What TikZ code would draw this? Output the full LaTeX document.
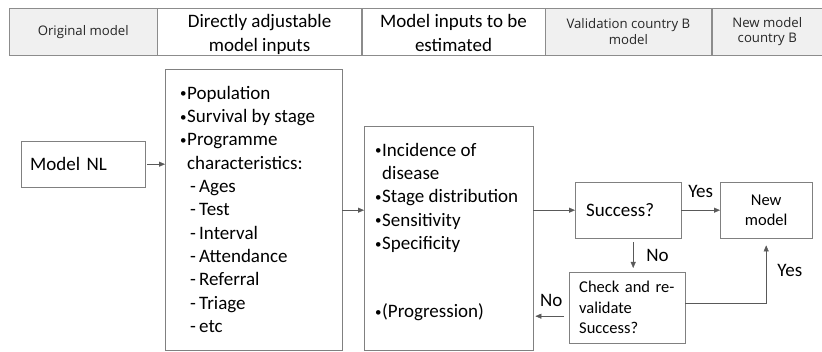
\documentclass[tikz,border=0pt]{standalone}
\usepackage{fontspec}
\setmainfont{Carlito}
\newfontfamily\headfont{Open Sans}
\usetikzlibrary{arrows.meta,shadows}
\tikzset{
    plain-box/.style = {draw=black!50, fill=white, thin, rectangle, inner sep=0pt, drop shadow={shadow xshift=1.2pt, shadow yshift=-1.2pt, fill=black!25, opacity=1}},
    big-text/.style = {font=\fontsize{19}{23.3}\selectfont},
    small-text/.style = {font=\fontsize{16.5}{20.5}\selectfont},
    head-cell/.style = {draw=black!45, fill=white, rectangle, minimum height=47pt, inner sep=0pt, align=center},
    head-cell-grey/.style = {head-cell, fill=black!6, text=black!85, font=\headfont\fontsize{13.2}{15.5}\selectfont},
    head-title/.style = {align=center, inner sep=0pt, font=\fontsize{19}{24}\selectfont},
    flow-arrow/.style = {draw=black!65, thin, -{Triangle[length=6pt,width=5pt]}},
    answer/.style = {big-text, inner sep=1pt},
}
\newcommand{\blt}{\makebox[7pt][l]{\raisebox{1.5pt}{\fontsize{13}{13}\selectfont\textbullet}}}
\newcommand{\dsh}{\hspace*{10pt}\makebox[9pt][l]{-}}

\begin{document}
\begin{tikzpicture}[x=1pt,y=-1pt]
\useasboundingbox (0,0) rectangle (822,352);

\node[head-cell-grey, minimum width=148pt, anchor=north west] (h-orig) at (9,8) {Original model};
\node[head-cell, minimum width=204pt, anchor=north west] (h-adj) at (h-orig.north east) {};
\node[head-cell, minimum width=183pt, anchor=north west] (h-est) at (h-adj.north east) {};
\node[head-cell-grey, minimum width=166pt, anchor=north west] (h-val) at (h-est.north east) {Validation country B\\model};
\node[head-cell-grey, minimum width=111pt, anchor=north west] (h-new) at (h-val.north east) {New model\\country B};
\node[head-title] (t-adj) at ([yshift=-3pt]h-adj.center) {Directly adjustable\\model inputs};
\node[head-title] (t-est) at ([yshift=-3pt]h-est.center) {Model inputs to be\\estimated\vphantom{p}};

\node[plain-box, big-text, anchor=north west, minimum width=124pt, minimum height=46pt, text width=106pt, inner xsep=9pt, align=left] (nl) at (21,141) {Model NL};

\node[plain-box, big-text, anchor=north west, inner xsep=15pt, inner ysep=17pt] (adj) at (165,69) {\begin{minipage}[t][247pt][t]{147pt}
    \blt Population\\
    \blt Survival by stage\\
    \blt Programme\\
    \hspace*{7pt}characteristics:\\
    \dsh Ages\\
    \dsh Test\\
    \dsh Interval\\
    \dsh Attendance\\
    \dsh Referral\\
    \dsh Triage\\
    \dsh etc
\end{minipage}};

\node[plain-box, big-text, anchor=north west, inner xsep=11pt, inner ysep=17pt] (est) at (364,126) {\begin{minipage}[t][190pt][t]{147pt}
    \blt Incidence of\\
    \hspace*{7pt}disease\\
    \blt Stage distribution\\
    \blt Sensitivity\\
    \blt Specificity\\[44.7pt]
    \blt (Progression)
\end{minipage}};

\node[plain-box, big-text, anchor=north west, minimum width=106pt, minimum height=56pt, text width=84pt, inner xsep=11pt, align=left] (succ) at (575,182) {Success?};
\node[plain-box, small-text, anchor=north west, minimum width=92pt, minimum height=56pt, align=center] (new) at (720,182) {New\\model};
\node[plain-box, small-text, anchor=north west, minimum width=116pt, minimum height=71pt, text width=96pt, inner xsep=10pt, align=left] (chk) at (569,272) {Check and re-\\validate\\Success?};

\draw[flow-arrow, shorten <=2pt] (nl.east) -- (nl.east -| adj.west);
\draw[flow-arrow] (adj.east |- succ) -- (est.west |- succ);
\draw[flow-arrow] (est.east |- succ) -- (succ.west);
\draw[flow-arrow] (succ) -- node[answer, above=11pt] (yes-a) {Yes} (new);
\draw[flow-arrow, shorten <=4pt, shorten >=4pt] ([xshift=5pt]succ.south) -- node[answer, right, xshift=12pt] (no-a) {No} ([xshift=5pt]succ.south |- chk.north);
\draw[flow-arrow, shorten >=7pt] ([yshift=4.5pt]chk.east) -| node[answer, pos=0.75, right, xshift=10pt] (yes-b) {Yes} (new.south);
\draw[flow-arrow, shorten <=5pt, shorten >=2pt] ([yshift=-8.5pt]chk.west) -- node[answer, above=8pt] (no-b) {No} ([yshift=-8.5pt]chk.west -| est.east);
\end{tikzpicture}
\end{document}
